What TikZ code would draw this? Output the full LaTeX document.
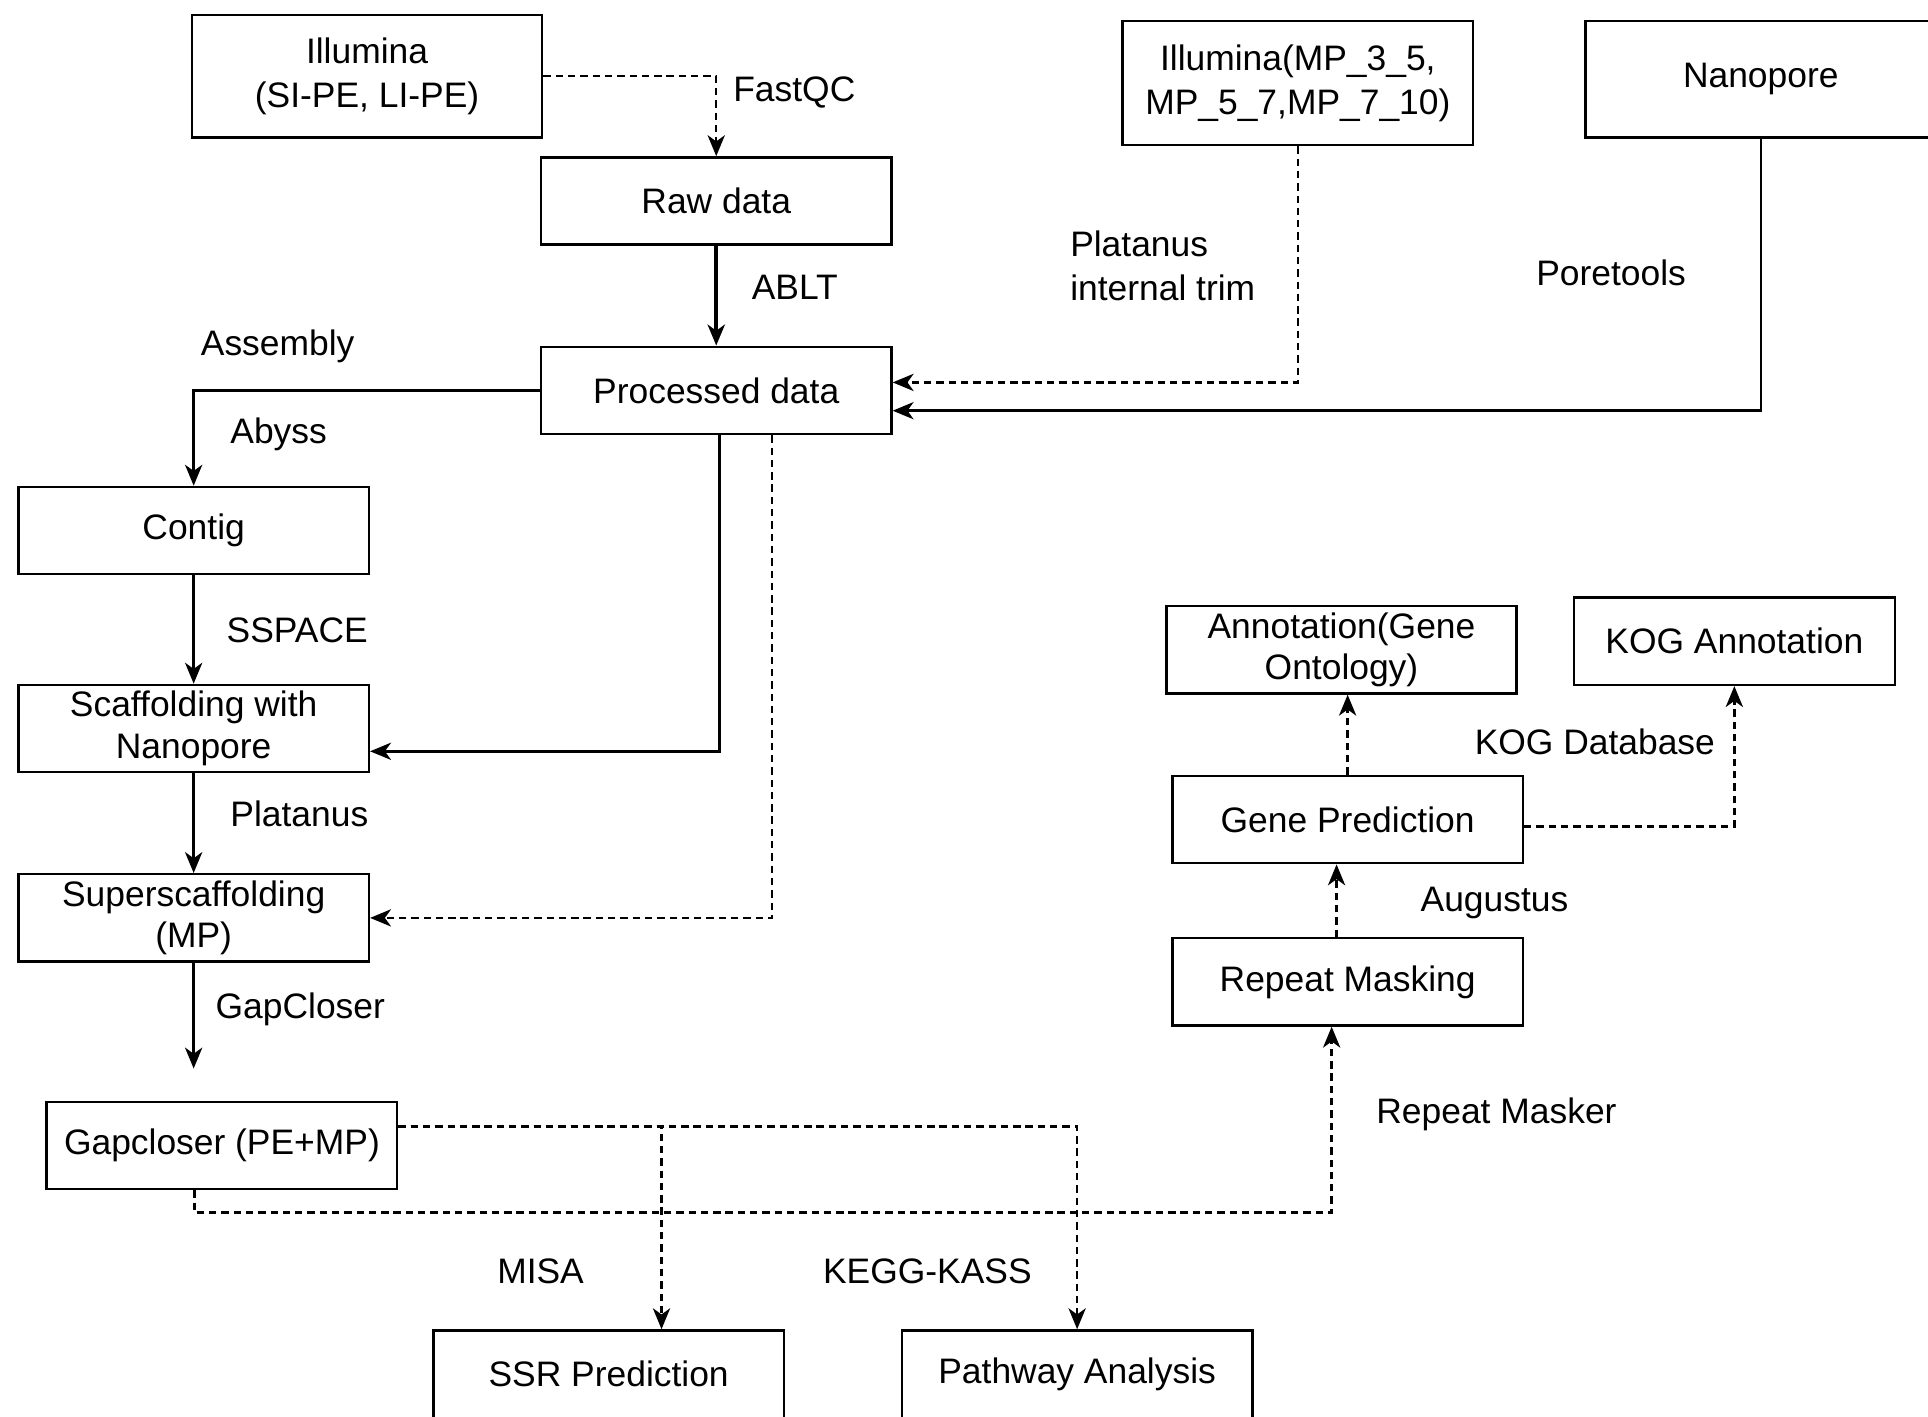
\documentclass[tikz,border=0pt]{standalone}
\usepackage{fontspec}
\setmainfont{Liberation Sans}
\usetikzlibrary{arrows.meta}
\begin{document}
\begin{tikzpicture}[x=0.5pt, y=-0.5pt,
    caja/.style={draw, line width=1pt, minimum width=142.5pt, minimum height=35.5pt, inner sep=0pt, align=center, font=\fontsize{14.4}{17}\selectfont},
    etiqueta/.style={anchor=west, inner sep=0pt, align=left, font=\fontsize{14.4}{18}\selectfont},
    flecha/.style={line width=1pt, -{Stealth[length=8.5pt,width=7pt,inset=2.5pt]}},
    punteada/.style={flecha, dash pattern=on 3pt off 2pt}]
    \useasboundingbox (0,0) rectangle (1568,1152);

    % Datos de secuenciación
    \node[caja, minimum height=50pt, font=\fontsize{14.4}{18}\selectfont] (ilsp) at (298.5,62) {Illumina\\(SI-PE, LI-PE)};
    \node[caja] (raw) at (582.5,163.5) {Raw data};
    \node[caja] (proc) at (582.5,317.5) {Processed data};
    \node[caja, minimum height=50.5pt, font=\fontsize{14.4}{18}\selectfont] (ilmp) at (1055.5,67.5) {Illumina(MP\_3\_5,\\MP\_5\_7,MP\_7\_10)};
    \node[caja, minimum height=47.5pt] (nano) at (1432,64.5) {Nanopore};

    % Ensamblaje
    \node[caja] (contig) at (157.5,431.5) {Contig};
    \node[caja] (scaf) at (157.5,592.5) {Scaffolding with\\Nanopore};
    \node[caja] (super) at (157.5,746.5) {Superscaffolding\\(MP)};
    \node[caja] (gapc) at (180.5,931.5) {Gapcloser (PE+MP)};
    \node[caja] (ssr) at (495,1117.5) {SSR Prediction};
    \node[caja] (path) at (876,1117.5) {Pathway Analysis};

    % Anotación
    \node[caja] (anno) at (1091,528.5) {Annotation(Gene\\Ontology)};
    \node[caja, minimum width=130.5pt] (kog) at (1410.5,521.5) {KOG Annotation};
    \node[caja] (gene) at (1096,666.5) {Gene Prediction};
    \node[caja] (rep) at (1096,798.5) {Repeat Masking};

    % Etiquetas de las herramientas
    \node[etiqueta] (fastqc) at (596,75) {FastQC};
    \node[etiqueta] (ablt) at (611,234) {ABLT};
    \node[etiqueta] (assembly) at (163,282) {Assembly};
    \node[etiqueta] (abyss) at (187,353) {Abyss};
    \node[etiqueta] (trim) at (870,216) {Platanus\\internal trim};
    \node[etiqueta] (pore) at (1249,222) {Poretools};
    \node[etiqueta] (sspace) at (184,513) {SSPACE};
    \node[etiqueta] (plat) at (187,662) {Platanus};
    \node[etiqueta] (gapcl) at (175,821) {GapCloser};
    \node[etiqueta] (kogdb) at (1199,603) {KOG Database};
    \node[etiqueta] (aug) at (1155,734) {Augustus};
    \node[etiqueta] (rmask) at (1119,906) {Repeat Masker};
    \node[etiqueta] (misa) at (404,1034) {MISA};
    \node[etiqueta] (kegg) at (669,1034) {KEGG-KASS};

    % Control de calidad y recorte
    \draw[punteada] (ilsp.east) -| (raw.north);
    \draw[flecha, line width=1.5pt] (raw) -- (proc);
    \draw[punteada] (ilmp.south) |- ([yshift=3.25pt]proc.east);
    \draw[flecha] (nano.south) |- ([yshift=-8.25pt]proc.east);

    % Flujo del ensamblaje
    \draw[flecha] (proc.west) -| (contig.north);
    \draw[flecha] (contig) -- (scaf);
    \draw[flecha] ([xshift=1.25pt]proc.south) |- ([yshift=-9.25pt]scaf.east);
    \draw[flecha] (scaf) -- (super);
    \draw[punteada] ([xshift=22.75pt]proc.south) |- (super.east);
    \coordinate (gapin) at (157.5,869);
    \draw[flecha] (super.south) -- (gapin);

    % Salidas del gapcloser
    \draw[punteada] ([yshift=7.75pt]gapc.east) -| ([xshift=21.5pt]ssr.north);
    \draw[punteada] ([yshift=7.75pt]gapc.east) -| (path.north);
    \draw[punteada] ([xshift=-11.25pt]gapc.south) -- ++(0,18) -| ([xshift=-6.5pt]rep.south);

    % Predicción génica y anotación
    \draw[punteada] ([xshift=-4.5pt]rep.north) -- ([xshift=-4.5pt]gene.south);
    \draw[punteada] (gene.north) -- (gene.north |- anno.south);
    \draw[punteada] ([yshift=-2.75pt]gene.east) -| (kog.south);
\end{tikzpicture}
\end{document}
